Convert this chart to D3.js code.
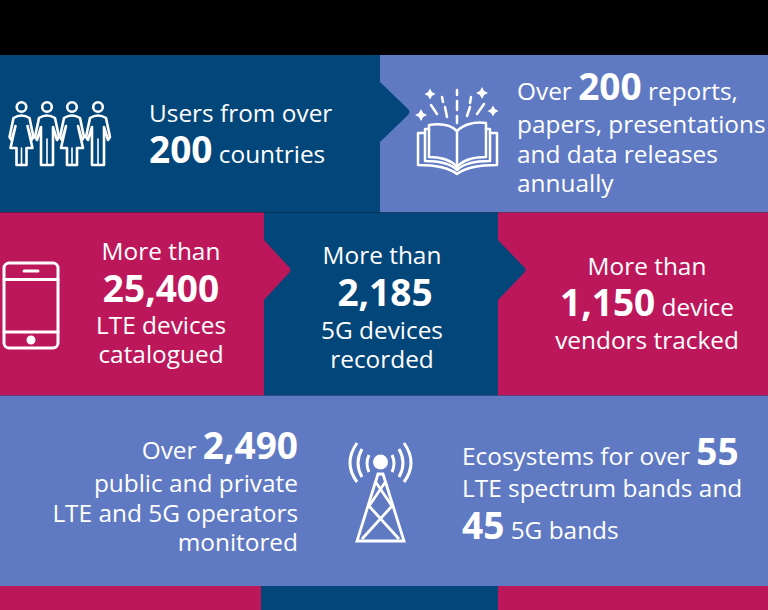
<!DOCTYPE html>
<html>
<head>
<meta charset="utf-8">
<script src="https://cdn.jsdelivr.net/npm/d3@7"></script>
<style>
  html, body { margin: 0; padding: 0; background: #000; }
  svg { display: block; }
  text { font-family: "Open Sans", sans-serif; fill: #fff; }
</style>
</head>
<body>
<svg id="chart" width="768" height="610"></svg>
<script>
// headline figures
const users = 200
const reports = 200
const lteDevices = 25400
const fiveGDevices = 2185
const vendors = 1150
const operators = 2490
const lteBands = 55
const fiveGBands = 45

const fmt = d3.format(",")

// each line is a list of [text, isBold]
const usersText = [
  [["Users from over", 0]],
  [[fmt(users), 1], [" countries", 0]]
]
const reportsText = [
  [["Over ", 0], [fmt(reports), 1], [" reports,", 0]],
  [["papers, presentations", 0]],
  [["and data releases", 0]],
  [["annually", 0]]
]
const lteText = [
  [["More than", 0]],
  [[fmt(lteDevices), 1]],
  [["LTE devices", 0]],
  [["catalogued", 0]]
]
const fiveGText = [
  [["More than", 0]],
  [[fmt(fiveGDevices), 1]],
  [["5G devices", 0]],
  [["recorded", 0]]
]
const vendorText = [
  [["More than", 0]],
  [[fmt(vendors), 1], [" device", 0]],
  [["vendors tracked", 0]]
]
const operatorText = [
  [["Over ", 0], [fmt(operators), 1]],
  [["public and private", 0]],
  [["LTE and 5G operators", 0]],
  [["monitored", 0]]
]
const bandText = [
  [["Ecosystems for over ", 0], [fmt(lteBands), 1]],
  [["LTE spectrum bands and", 0]],
  [[fmt(fiveGBands), 1], [" 5G bands", 0]]
]

const NAVY = "#03467a"
const PERI = "#5f7ac2"
const RED = "#bd175b"

const svg = d3.select("#chart")

function box(x0, y0, x1, y1, fill) {
  svg.append("rect")
    .attr("x", x0).attr("y", y0)
    .attr("width", x1 - x0).attr("height", y1 - y0)
    .attr("fill", fill)
}

// the little rounded arrow sticking out of a panel
function arrow(x, y0, y1, tip, fill) {
  let mid = (y0 + y1) / 2
  let p = d3.path()
  p.moveTo(x - 1, y0)
  p.lineTo(x, y0)
  p.lineTo(tip - 4, mid - 4)
  p.quadraticCurveTo(tip + 1, mid, tip - 4, mid + 4)
  p.lineTo(x, y1)
  p.lineTo(x - 1, y1)
  p.closePath()
  svg.append("path").attr("d", p.toString()).attr("fill", fill)
}

// nudge is an optional {lineIndex: dx}, the original isn't quite centred
function block(lines, x, baselines, anchor, size, boldSize, nudge = {}) {
  lines.forEach((line, i) => {
    let t = svg.append("text")
      .attr("x", x + (nudge[i] || 0))
      .attr("y", baselines[i])
      .attr("text-anchor", anchor)
    line.forEach(seg => {
      t.append("tspan")
        .attr("font-size", seg[1] ? boldSize : size)
        .attr("font-weight", seg[1] ? 700 : 400)
        .style("white-space", "pre")
        .text(seg[0])
    })
  })
}

// panels
box(0, 55, 380, 212.5, NAVY)
box(380, 55, 768, 212.5, PERI)
box(0, 212.5, 264, 395.5, RED)
box(264, 212.5, 498, 395.5, NAVY)
box(498, 212.5, 768, 395.5, RED)
box(0, 395.5, 768, 586, PERI)
box(0, 586, 261, 610, RED)
box(261, 586, 498, 610, NAVY)
box(498, 586, 768, 610, RED)

arrow(380, 82, 142, 411, NAVY)
arrow(264, 240, 300, 292, RED)
arrow(498, 240, 300, 527, NAVY)

// text
block(usersText, 149, [122, 163], "start", 24.4, 37)
block(reportsText, 517, [100, 133, 163, 192], "start", 24.4, 37)
block(lteText, 161, [260, 302, 334, 363], "middle", 24.4, 37)
block(fiveGText, 382, [264, 306, 339, 368], "middle", 24.4, 37, {1: 3})
block(vendorText, 647, [275, 316, 349], "middle", 24.4, 37)
block(operatorText, 298, [459, 492, 522, 551], "end", 24.4, 37)
block(bandText, 462, [465, 497, 539], "start", 24.4, 37)

// icons
function icon(x, y) {
  return svg.append("g")
    .attr("transform", `translate(${x},${y})`)
    .attr("fill", "none")
    .attr("stroke", "#fff")
    .attr("stroke-width", 2.6)
    .attr("stroke-linejoin", "round")
    .attr("stroke-linecap", "round")
}

function person(g, x, female) {
  g.append("circle").attr("cx", x).attr("cy", 7).attr("r", 4.8)
  if (female) {
    g.append("path").attr("d", `M${x - 8} 18 Q${x} 13 ${x + 8} 18 L${x + 12} 37 L${x + 10} 40 L${x + 6} 26 L${x + 11} 48 L${x + 5} 48 L${x + 5} 65 L${x - 5} 65 L${x - 5} 48 L${x - 11} 48 L${x - 6} 26 L${x - 10} 40 L${x - 12} 37 Z`)
    g.append("path").attr("d", `M${x} 48 V65`).attr("stroke-width", 1.6)
  } else {
    g.append("path").attr("d", `M${x - 8} 18 Q${x} 13 ${x + 8} 18 L${x + 12} 37 L${x + 10} 40 L${x + 6} 27 V65 H${x - 6} V27 L${x - 10} 40 L${x - 12} 37 Z`)
    g.append("path").attr("d", `M${x} 39 V65`).attr("stroke-width", 1.6)
  }
}

let people = icon(0, 100)
person(people, 21.5, true)
person(people, 47, false)
person(people, 72, true)
person(people, 98, false)

// book
let book = icon(0, 0)
book.attr("stroke-width", 2.5)
book.append("path").attr("d", "M429 125 C441 123 451 125 457 131 C463 125 474 121 486 123 V157 C474 157 463 160 457 167 C451 160 441 157 429 157 Z")
book.append("path").attr("d", "M457 131 V167")
book.append("path").attr("d", "M429 129 H425 V161 C438 161 450 163 457 170 C464 163 476 161 490 161 V129 H486")
book.append("path").attr("d", "M425 133 H418 V165 C434 165 448 167 457 174 C466 167 480 165 497 165 V133 H490")
const rays = [[457, 90, 457, 95], [457, 101, 457, 110], [457, 116, 457, 123],
  [442, 97, 443, 102], [431, 105, 437, 114], [445, 107, 447, 117],
  [471, 97, 470, 103], [470, 107, 467, 116], [484, 104, 477, 114]]
rays.forEach(r => {
  book.append("line").attr("x1", r[0]).attr("y1", r[1]).attr("x2", r[2]).attr("y2", r[3])
})
const sparkles = [[430, 94, 5.5], [421, 115, 6], [482, 93, 6], [493, 111, 5.5]]
sparkles.forEach(s => {
  let r = s[2]
  book.append("path")
    .attr("d", `M${s[0]} ${s[1] - r} L${s[0] + r * 0.35} ${s[1] - r * 0.35} L${s[0] + r} ${s[1]} L${s[0] + r * 0.35} ${s[1] + r * 0.35} L${s[0]} ${s[1] + r} L${s[0] - r * 0.35} ${s[1] + r * 0.35} L${s[0] - r} ${s[1]} L${s[0] - r * 0.35} ${s[1] - r * 0.35} Z`)
    .attr("fill", "#fff").attr("stroke", "none")
})

// phone
let phone = icon(0, 0)
phone.attr("stroke-width", 3)
phone.append("rect").attr("x", 4).attr("y", 263).attr("width", 54).attr("height", 85).attr("rx", 5)
phone.append("path").attr("d", "M4 279.5 H58 M4 332 H58 M24 271 H38")
phone.append("circle").attr("cx", 31).attr("cy", 340).attr("r", 3).attr("fill", "#fff")

// mast
let mast = icon(0, 0)
mast.attr("stroke-width", 3)
mast.append("circle").attr("cx", 380.5).attr("cy", 462).attr("r", 7.5).attr("fill", "#fff").attr("stroke", "none")
const waves = ["M369 455 Q365 463.5 369 472", "M362 449 Q354 463 362 477", "M357 443 Q343 463 357 482",
  "M392 455 Q396 463.5 392 472", "M399 449 Q407 463 399 477", "M404 443 Q418 463 404 482"]
waves.forEach(d => mast.append("path").attr("d", d))
mast.attr("stroke-linejoin", "miter").attr("stroke-linecap", "butt")
mast.append("path").attr("d", "M378 474 H383 L404 541 H357 Z").attr("stroke-width", 2.8)
mast.append("path").attr("d", "M375 481 L392 506 L362 539 M386 481 L369 506 L399 539").attr("stroke-width", 2.8)
</script>
</body>
</html>
